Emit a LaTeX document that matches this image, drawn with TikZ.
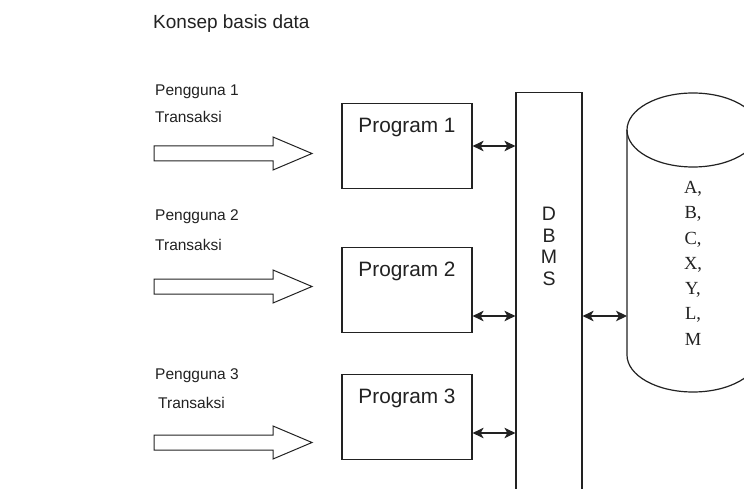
\documentclass[tikz,border=0pt]{standalone}
\usepackage{fontspec}
\setmainfont{Liberation Sans}
\newfontfamily\serifdb{Liberation Serif}
\usetikzlibrary{arrows.meta}
\definecolor{ink}{HTML}{222222}
\begin{document}
\begin{tikzpicture}[x=1pt,y=-1pt,
  line/.style={draw=ink, line width=1.2pt},
  txt/.style={text=ink, inner sep=0pt},
  lbl/.style={txt, anchor=base west, font=\fontsize{15.5}{18}\selectfont},
  progbox/.style={line, fill=white, minimum width=130pt, inner xsep=0pt, inner ysep=0pt,
    text height=29pt, text depth=56pt, anchor=north, font=\fontsize{20.8}{24}\selectfont, text=ink},
  dbl/.style={line, {Stealth[length=11pt,width=10.5pt,inset=3pt]}-{Stealth[length=11pt,width=10.5pt,inset=3pt]}},
  hollowarrow/.pic={\draw[draw=ink, line width=1pt, line join=miter]
    (0,-7.5) -- (119,-7.5) -- (119,-16.5) -- (158,0) -- (119,16.5) -- (119,7.5) -- (0,7.5) -- cycle;}
]
\clip (0,0) rectangle (744,489);
\fill[white] (0,0) rectangle (744,489);

% title
\node[txt, anchor=base west, font=\fontsize{19}{22}\selectfont] (title) at (153,28.5) {Konsep basis data};

% user labels
\node[lbl] (u1) at (155,96) {Pengguna 1};
\node[lbl] (t1) at (155,123) {Transaksi};
\node[lbl] (u2) at (155,221) {Pengguna 2};
\node[lbl] (t2) at (155,250) {Transaksi};
\node[lbl] (u3) at (155,379) {Pengguna 3};
\node[lbl] (t3) at (158,408) {Transaksi};

% hollow arrows
\pic (a1) at (154,153.5) {hollowarrow};
\pic (a2) at (154,286.5) {hollowarrow};
\pic (a3) at (154,442.5) {hollowarrow};

% programs
\node[progbox] (p1) at (407,103) {Program 1};
\node[progbox] (p2) at (407,247) {Program 2};
\node[progbox] (p3) at (407,374) {Program 3};

% DBMS
\node[line, minimum width=66pt, minimum height=420pt, anchor=north, inner sep=0pt] (dbms) at (549,92) {};
\node[txt, font=\fontsize{19.5}{21.5}\selectfont, align=center, anchor=north] (dbmstxt) at (549,207) {D\\B\\M\\S};

% database cylinder
\draw[line] (627,130) -- (627,355) arc[start angle=180, end angle=0, x radius=66, y radius=37] -- (759,130);
\draw[line] (693,130) ellipse [x radius=66, y radius=37];
\node[txt, font=\serifdb\fontsize{18.5}{25.3}\selectfont, align=center, anchor=north] (cyltxt) at (693,181) {A,\\B,\\C,\\X,\\Y,\\L,\\M};
\coordinate (cylleft) at (627,316);

% connector levels
\coordinate (r1) at (0,146);
\coordinate (r2) at (0,316);
\coordinate (r3) at (0,433);

\draw[dbl] (p1.east |- r1) -- (dbms.west |- r1);
\draw[dbl] (p2.east |- r2) -- (dbms.west |- r2);
\draw[dbl] (p3.east |- r3) -- (dbms.west |- r3);
\draw[dbl] (dbms.east |- cylleft) -- (cylleft);
\end{tikzpicture}
\end{document}
